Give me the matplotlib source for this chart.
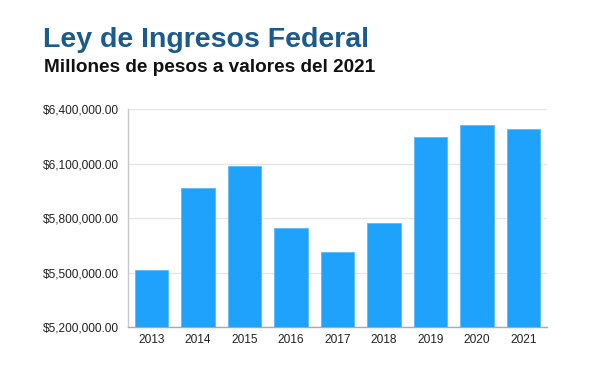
import matplotlib
matplotlib.use("Agg")
import matplotlib.pyplot as plt
from matplotlib.ticker import FuncFormatter

years = ["2013", "2014", "2015", "2016", "2017", "2018", "2019", "2020", "2021"]
values = [5515000, 5964000, 6089000, 5747000, 5613000, 5774000, 6249000, 6315000, 6291000]
yticks = [5200000, 5500000, 5800000, 6100000, 6400000]

title = "Ley de Ingresos Federal"
subtitle = "Millones de pesos a valores del 2021"

plt.rcParams['font.family'] = ['Liberation Sans', 'DejaVu Sans']

fig = plt.figure(figsize=(6.10, 3.66), dpi=100)
ax = fig.add_axes([0.2103, 0.1066, 0.6859, 0.5948])

x = range(len(years))
ax.bar(x, values, width=0.72, color="#1EA2FB", edgecolor="#5BBAFB", linewidth=0.6, zorder=3)

ax.set_ylim(yticks[0], yticks[-1])
ax.set_xlim(-0.5, len(years) - 0.5)
ax.set_yticks(yticks)
ax.yaxis.set_major_formatter(FuncFormatter(lambda v, p: "${:,.2f}".format(v)))
ax.set_xticks(list(x))
ax.set_xticklabels(years)

ax.grid(axis="y", color="#E6E6E6", linewidth=1.0, zorder=0)
ax.tick_params(axis="y", length=0, pad=6.5, labelsize=8.6, labelcolor="#222222")
ax.tick_params(axis="x", length=0, pad=5.0, labelsize=8.6, labelcolor="#222222")

for s in ["top", "right"]:
    ax.spines[s].set_visible(False)
ax.spines["left"].set_color("#C8C8C8")
ax.spines["left"].set_linewidth(1.0)
ax.spines["bottom"].set_color("#AAAAAA")
ax.spines["bottom"].set_linewidth(1.0)

fig.text(43 / 610, 1 - 47 / 366, title, fontsize=20.5, fontweight="bold",
         color="#1B5A8C", ha="left", va="baseline")
fig.text(44 / 610, 1 - 72 / 366, subtitle, fontsize=13.7, fontweight="bold",
         color="#111111", ha="left", va="baseline")

fig.savefig("out.png", dpi=100)
